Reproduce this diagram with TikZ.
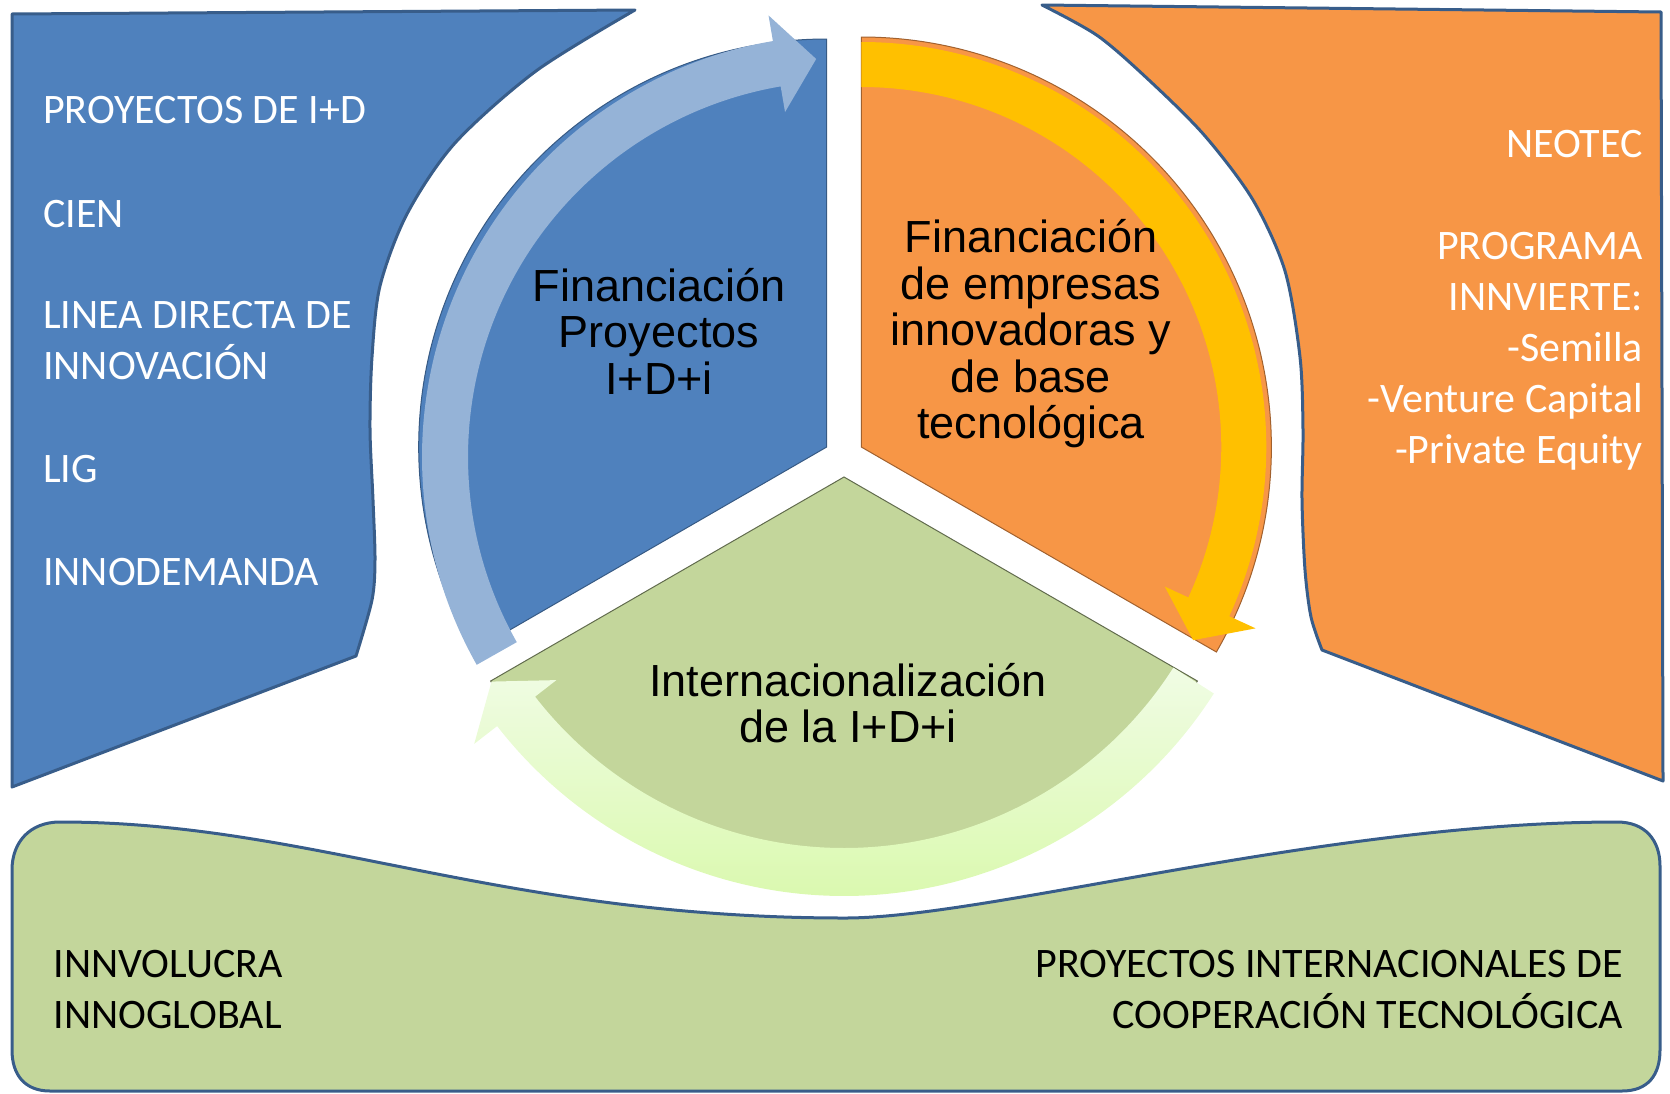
\documentclass[tikz,border=0pt]{standalone}
\usepackage{fontspec}
\setmainfont{Liberation Sans}
\newfontfamily\carlito{Carlito}
\definecolor{segblue}{HTML}{4F81BD}
\definecolor{panelborder}{HTML}{385D8A}
\definecolor{segorange}{HTML}{F79646}
\definecolor{seggreen}{HTML}{C3D69B}
\definecolor{arrowblue}{HTML}{95B3D7}
\definecolor{arrowyellow}{HTML}{FFC000}
\definecolor{arrowgreenA}{HTML}{F0FCE4}
\definecolor{arrowgreenB}{HTML}{DAF9AE}
\begin{document}
\begin{tikzpicture}[x=1pt,y=1pt,
  panel/.style={draw=panelborder, line width=3pt, line join=round},
  paneltxt/.style={font=\carlito\fontsize{42}{50}\selectfont, inner sep=0pt},
  whitetxt/.style={paneltxt, text=white},
  blacktxt/.style={paneltxt, text=black},
  pietxt/.style={font=\fontsize{45}{46}\selectfont, inner sep=0pt, anchor=base, text=black},
  bluesector/.style={fill=segblue, draw=segblue!70!black, line width=1pt},
  orangesector/.style={fill=segorange, draw=segorange!65!black, line width=1pt},
  greensector/.style={fill=seggreen, draw=seggreen!50!black, line width=1pt}]
\useasboundingbox (0,0) rectangle (1670,-1093);

% left blue panel
\path[panel, fill=segblue] (12,-14) -- (635,-10) -- plot[smooth] coordinates {(635,-10) (536,-71) (455,-143) (407,-214) (380,-286) (372,-357) (370,-429) (373,-500) (375,-560) (372,-600) (356,-656)} -- (12,-787) -- cycle;

% right orange panel
\path[panel, fill=segorange] (1042,-5) -- (1661,-12) -- (1663,-781) -- (1322,-650) -- plot[smooth] coordinates {(1322,-650) (1311,-617) (1305,-570) (1302,-500) (1303,-430) (1300,-357) (1285,-271) (1253,-200) (1205,-136) (1151,-82) (1098,-36) (1042,-5)} -- cycle;

% bottom green panel
\path[panel, fill=seggreen] (12,-870) .. controls (12,-842) and (30,-822) .. (60,-822) .. controls (311.6,-822) and (498.4,-918) .. (845,-918) .. controls (988.6,-918) and (1324.4,-822) .. (1617,-822) .. controls (1645,-822) and (1660,-840) .. (1660,-866) -- (1660,-1050) .. controls (1660,-1075) and (1648,-1091) .. (1622,-1091) -- (50,-1091) .. controls (25,-1091) and (12,-1075) .. (12,-1050) -- cycle;

% pie sectors
\coordinate (C) at (844,-457);
\coordinate (Vb) at (826.7,-447);
\coordinate (Vo) at (861.3,-447);
\coordinate (Vg) at (844,-477);
\path[bluesector] (Vb) -- ++(90:408pt) arc[start angle=90, end angle=210, radius=408pt] -- cycle;
\path[orangesector] (Vo) -- ++(-30:410pt) arc[start angle=-30, end angle=90, radius=410pt] -- cycle;
\path[greensector] (Vg) -- ++(210:408pt) arc[start angle=210, end angle=330, radius=408pt] -- cycle;

% cycle arrows
\begin{scope}[shift={(C)}]
  \fill[arrowblue] (209.5:422pt) arc[start angle=209.5, end angle=99.7, radius=422pt] -- (99.7:448pt) -- (94:399pt) -- (99.7:350pt) -- (99.7:376pt) arc[start angle=99.7, end angle=209.5, radius=376pt] -- cycle;
  \shade[top color=arrowgreenA, bottom color=arrowgreenB] (-32.6:439pt) arc[start angle=-32.6, end angle=-142.2, radius=439pt] -- (-142.2:468pt) -- (-147.5:418pt) -- (-142.2:364pt) -- (-142.2:391pt) arc[start angle=-142.2, end angle=-32.6, radius=391pt] -- cycle;
\end{scope}
\begin{scope}[shift={(Vo)}]
  \fill[arrowyellow] (90:405pt) arc[start angle=90, end angle=-24.7, radius=405pt] -- (-24.7:434pt) -- (-30.2:384pt) -- (-24.7:334pt) -- (-24.7:360pt) arc[start angle=-24.7, end angle=90, radius=360pt] -- cycle;
\end{scope}

% left panel text
\node[whitetxt, anchor=base west] (l1) at (43,-123) {PROYECTOS DE I+D};
\node[whitetxt, anchor=base west] (l2) at (43,-227) {CIEN};
\node[whitetxt, anchor=base west] (l3) at (43,-328) {LINEA DIRECTA DE};
\node[whitetxt, anchor=base west] (l4) at (43,-379) {INNOVACIÓN};
\node[whitetxt, anchor=base west] (l5) at (43,-482) {LIG};
\node[whitetxt, anchor=base west] (l6) at (43,-585) {INNODEMANDA};

% right panel text
\node[whitetxt, anchor=base east] (r1) at (1643,-157) {NEOTEC};
\node[whitetxt, anchor=base east] (r2) at (1643,-259) {PROGRAMA};
\node[whitetxt, anchor=base east] (r3) at (1643,-310.5) {INNVIERTE:};
\node[whitetxt, anchor=base east] (r4) at (1643,-361.5) {-Semilla};
\node[whitetxt, anchor=base east] (r5) at (1643,-412.5) {-Venture Capital};
\node[whitetxt, anchor=base east] (r6) at (1643,-463.5) {-Private Equity};

% bottom panel text
\node[blacktxt, anchor=base west] (b1) at (53.5,-977) {INNVOLUCRA};
\node[blacktxt, anchor=base west] (b2) at (53.5,-1028) {INNOGLOBAL};
\node[blacktxt, anchor=base east] (b3) at (1623,-977) {PROYECTOS INTERNACIONALES DE};
\node[blacktxt, anchor=base east] (b4) at (1623,-1028) {COOPERACIÓN TECNOLÓGICA};

% sector labels
\node[pietxt] (p1) at (659,-301) {Financiación};
\node[pietxt] (p2) at (659,-347.5) {Proyectos};
\node[pietxt] (p3) at (659,-394.5) {I+D+i};
\node[pietxt] (o1) at (1031,-252.5) {Financiación};
\node[pietxt] (o2) at (1031,-299) {de empresas};
\node[pietxt] (o3) at (1031,-345.5) {innovadoras y};
\node[pietxt] (o4) at (1031,-392) {de base};
\node[pietxt] (o5) at (1031,-438.5) {tecnológica};
\node[pietxt] (g1) at (848,-696) {Internacionalización};
\node[pietxt] (g2) at (848,-742) {de la I+D+i};
\end{tikzpicture}
\end{document}
